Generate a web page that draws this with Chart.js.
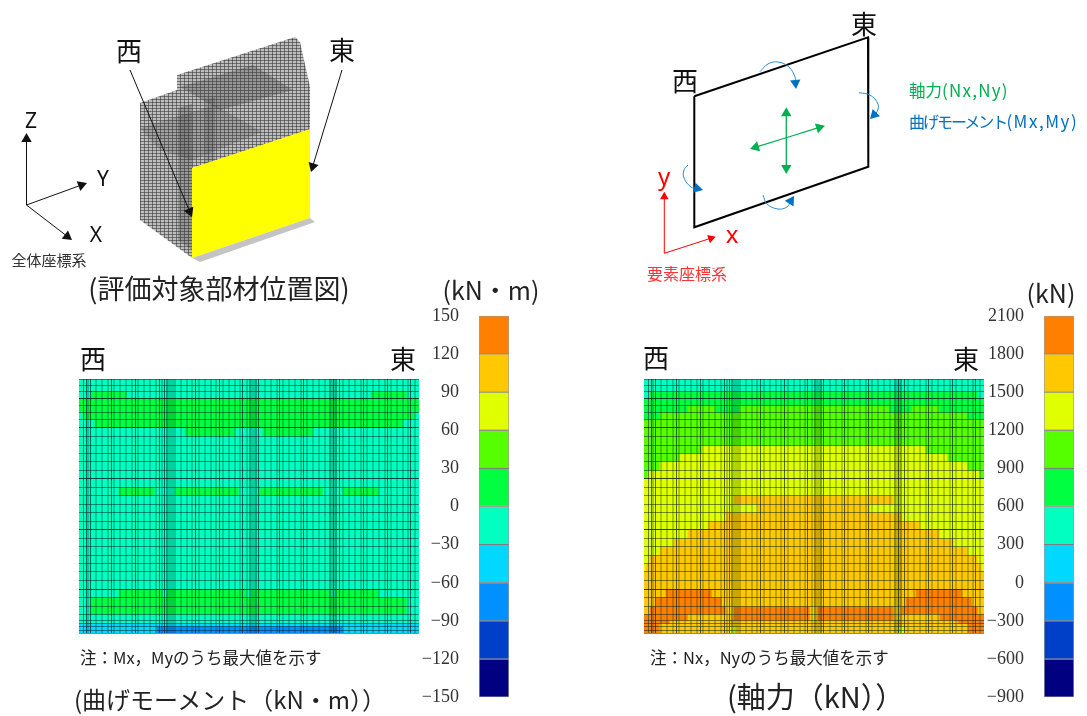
<!DOCTYPE html>
<html lang="ja"><head><meta charset="utf-8">
<script src="https://cdn.jsdelivr.net/npm/chart.js@4/dist/chart.umd.min.js"></script>
<style>
html,body{margin:0;padding:0;background:#fff;width:1087px;height:716px;overflow:hidden}
canvas{position:absolute;display:block}
.soft{filter:blur(.45px)}
.t{position:absolute;transform:translate(-50%,-50%);white-space:nowrap;font-family:"Noto Sans CJK JP","Noto Sans",sans-serif;color:#111;line-height:1;z-index:5}
.l{position:absolute;transform:translateY(-50%);white-space:nowrap;font-family:"Noto Sans CJK JP","Noto Sans",sans-serif;color:#111;line-height:1;z-index:5}
</style></head><body>
<canvas id="sketch" class="soft" width="1087" height="716" style="left:0;top:0"></canvas>
<canvas id="heatM" class="soft" width="344" height="258" style="left:77px;top:377px"></canvas>
<canvas id="heatN" class="soft" width="344" height="258" style="left:642px;top:377px"></canvas>
<canvas id="barM" width="100" height="443" style="left:411px;top:285px"></canvas>
<canvas id="barN" width="100" height="443" style="left:976px;top:285px"></canvas>

<div class="t" style="left:129px;top:50px;font-size:26px">西</div>
<div class="t" style="left:342px;top:49px;font-size:26px">東</div>
<div class="t" style="left:31px;top:120px;font-size:21px;font-family:'Noto Sans'">Z</div>
<div class="t" style="left:103px;top:178px;font-size:21px;font-family:'Noto Sans'">Y</div>
<div class="t" style="left:96px;top:234px;font-size:21px;font-family:'Noto Sans'">X</div>
<div class="t" style="left:49px;top:259px;font-size:15px;color:#333">全体座標系</div>
<div class="t" style="left:219px;top:287px;font-size:27px;color:#222">(評価対象部材位置図)</div>
<div class="t" style="left:685px;top:80px;font-size:26px">西</div>
<div class="t" style="left:864px;top:23px;font-size:26px">東</div>
<div class="l" style="left:909px;top:90px;font-size:16.5px;color:#00b050">軸力<span style="letter-spacing:1.2px;font-size:17px">(Nx,Ny)</span></div>
<div class="l" style="left:909px;top:120px;font-size:16px;color:#0070c0"><span style="letter-spacing:-2px">曲げモーメント</span><span style="letter-spacing:1.5px;font-size:17px">(Mx,My)</span></div>
<div class="t" style="left:664px;top:176px;font-size:24px;color:#f00;font-family:'Noto Sans'">y</div>
<div class="t" style="left:732px;top:234px;font-size:24px;color:#f00;font-family:'Noto Sans'">x</div>
<div class="t" style="left:687px;top:273px;font-size:16px;color:#f33">要素座標系</div>
<div class="t" style="left:491px;top:289px;font-size:25px;color:#222">(kN・m)</div>
<div class="t" style="left:1051px;top:292px;font-size:25px;color:#222">(kN)</div>
<div class="t" style="left:93px;top:358px;font-size:26px">西</div>
<div class="t" style="left:403px;top:358px;font-size:26px">東</div>
<div class="t" style="left:656px;top:357px;font-size:26px">西</div>
<div class="t" style="left:966px;top:358px;font-size:26px">東</div>
<div class="l" style="left:80px;top:657px;font-size:16.5px;color:#222">注：Mx，Myのうち最大値を示す</div>
<div class="l" style="left:650px;top:657px;font-size:16.5px;color:#222">注：Nx，Nyのうち最大値を示す</div>
<div class="l" style="left:74px;top:699px;font-size:24px;color:#222">(曲げモーメント（kN・m））</div>
<div class="l" style="left:727px;top:695px;font-size:29px;color:#222">(軸力（kN））</div>

<script>
// ---------- data ----------
const levelColors = ['#000080','#0040C8','#0090FF','#00D8FF','#00FFC0','#00FF40','#55FF00','#E0FF00','#FFC800','#FF8000'];
const momentTicks = [150,120,90,60,30,0,-30,-60,-90,-120,-150];
const axialTicks  = [2100,1800,1500,1200,900,600,300,0,-300,-600,-900];
const meshColumns = 170;
const meshRowEdges = [0,6,12,19,26,33,40,48,57,66,74,82,91,99,108,116,125,133,142,150,159,167,176,184,192,201,210,218,227,235,241,244,247,251,254];
const meshRowsStrong = [19,48,99,150,210];
const meshColsStrong = [2.5,3.8,15,27.3,39.5,42,57.5,69.5,81.5,88.5,100.5,112.5,128,130.5,142.7,155,166.2];
const meshBands = [44,86,127];

// contour band of each mesh row, as [band, column count] runs
const momentRuns = [
 [[4,170]],[[4,170]],
 [[4,6],[5,18],[4,122],[5,18],[4,6]],
 [[5,170]],[[5,170]],
 [[4,2],[5,166],[4,2]],
 [[4,8],[5,154],[4,8]],
 [[4,53],[5,25],[4,14],[5,25],[4,53]],
 [[4,170]],[[4,170]],[[4,170]],[[4,170]],[[4,170]],[[4,170]],
 [[4,20],[5,18],[4,10],[5,32],[4,10],[5,32],[4,10],[5,18],[4,20]],
 [[4,170]],[[4,170]],[[4,170]],[[4,170]],[[4,170]],[[4,170]],[[4,170]],[[4,170]],[[4,170]],[[4,170]],[[4,170]],
 [[4,20],[5,22],[4,2],[5,40],[4,2],[5,40],[4,2],[5,22],[4,20]],
 [[4,6],[5,158],[4,6]],
 [[4,6],[5,158],[4,6]],
 [[4,170]],[[4,170]],
 [[3,170]],
 [[3,39],[2,93],[3,38]],
 [[3,39],[2,93],[3,38]]
];
const axialRuns = [
 [[4,170]],[[4,170]],
 [[4,3],[5,164],[4,3]],
 [[5,170]],
 [[5,22],[6,14],[5,12],[6,75],[5,11],[6,14],[5,22]],
 [[5,8],[6,154],[5,8]],
 [[6,170]],[[6,170]],[[6,170]],
 [[6,29],[7,112],[6,29]],
 [[6,18],[7,134],[6,18]],
 [[6,8],[7,154],[6,8]],
 [[6,2],[7,166],[6,2]],
 [[7,170]],[[7,170]],
 [[7,45],[8,80],[7,45]],
 [[7,57],[8,56],[7,57]],
 [[7,41],[8,88],[7,41]],
 [[7,32],[8,106],[7,32]],
 [[7,22],[8,126],[7,22]],
 [[7,15],[8,140],[7,15]],
 [[7,8],[8,154],[7,8]],
 [[7,3],[8,164],[7,3]],
 [[7,1],[8,168],[7,1]],
 [[8,170]],[[8,170]],
 [[8,11],[9,23],[8,102],[9,23],[8,11]],
 [[8,6],[9,33],[8,92],[9,33],[8,6]],
 [[8,3],[9,38],[8,4],[9,38],[8,4],[9,38],[8,4],[9,38],[8,3]],
 [[9,22],[8,23],[9,38],[8,4],[9,38],[8,23],[9,22]],
 [[9,13],[8,144],[9,13]],
 [[9,8],[8,154],[9,8]],
 [[9,8],[8,35],[7,3],[8,81],[7,3],[8,32],[9,8]],
 [[9,8],[8,35],[7,3],[8,81],[7,3],[8,32],[9,8]]
];

// ---------- diagram outlines ----------
const wireOutline = [[177,75],[295,37],[300,42],[310,87],[310,130],[192,168],[192,258],[140,220],[140,103],[177,90]];
const wireUpperPlate = [[180,87],[253,65],[293,90],[220,110]];
const wireLowerPlate = [[140,128],[215,105],[262,132],[192,160],[160,150]];
const wireColumnA = [[178,108],[192,104],[192,250],[178,240]];
const wireColumnB = [[205,100],[215,97],[215,165],[205,168]];
const wallPanel = [[192,168],[310,129],[310,218],[192,258]];
const wallBase = [[192,258],[310,218],[315,222],[200,262]];
const panelFrame = [[694.3,96.3],[868,37.3],[868.3,166.7],[694.3,227.3],[694.3,96.3]];
const arrowsBlack = [
 [[26.5,205],[26.5,133]],[[26.5,205],[87,183]],[[26.5,205],[72,240]],
 [[130,70],[192,217]],[[342,70],[311,172]]
];
const arrowsRed = [[[664.3,253.3],[664.3,191.7]],[[664.3,253.3],[715.7,236.7]]];
const arrowsGreen = [[[786.3,140],[786.3,107.3]],[[786.3,140],[786.3,174]],[[787,137.5],[750,149]],[[787,137.5],[825,125.7]]];
const arrowsBlue = [
 [[760,71.7],[768,64],[778,62],[789,67],[795,77],[796,89]],
 [[859,92.7],[870,95],[878,104],[877,112],[870,119]],
 [[688,165],[684,170],[684,178],[691,187],[703,190]],
 [[763,195],[767,204],[778,209],[787,207],[794,196]]
];

// ---------- helpers ----------
function expandRuns(row){const out=[];row.forEach(([b,n])=>{for(let i=0;i<n;i++)out.push(levelColors[b]);});return out;}

function heatChart(id,runs){
  const cols=[...Array(meshColumns).keys()].map(String);
  const datasets=runs.map((row,r)=>({
    data:cols.map(()=>[meshRowEdges[r],meshRowEdges[r+1]]),
    backgroundColor:expandRuns(row),borderWidth:0,barPercentage:1,categoryPercentage:1,grouped:false
  }));
  const vLines=new Map();
  for(let i=1;i*3.05<meshColumns;i++)vLines.set(+(i*3.05).toFixed(2),{c:'rgba(0,40,40,.24)',w:2});
  meshColsStrong.forEach(v=>vLines.set(v,{c:'rgba(0,20,20,.62)',w:1}));
  meshBands.forEach(v=>vLines.set(v,{c:'rgba(0,30,30,.2)',w:8}));
  [0,170].forEach(v=>vLines.set(v,{c:'rgba(60,70,70,.7)',w:1}));
  const strongRows=new Set(meshRowsStrong);
  const vl=c=>(c.tick&&vLines.get(c.tick.value))||{c:'rgba(0,0,0,0)',w:1};
  new Chart(document.getElementById(id),{type:'bar',data:{labels:cols,datasets},options:{
    responsive:false,animation:false,events:[],layout:{padding:2,autoPadding:false},
    plugins:{legend:{display:false},tooltip:{enabled:false}},
    scales:{
      x:{display:false},
      g:{type:'linear',axis:'x',position:'top',min:0,max:meshColumns,
         afterBuildTicks:s=>{s.ticks=[...vLines.keys()].sort((a,b)=>b-a).map(v=>({value:v}));},
         ticks:{display:false,autoSkip:false},border:{display:false},
         grid:{z:1,drawTicks:false,color:c=>vl(c).c,lineWidth:c=>vl(c).w}},
      y:{min:0,max:254,reverse:true,
         afterBuildTicks:s=>{s.ticks=meshRowEdges.map(v=>({value:v}));},
         ticks:{display:false,autoSkip:false},border:{display:false},
         grid:{z:1,drawTicks:false,color:c=>(c.tick&&strongRows.has(c.tick.value))?'rgba(0,20,20,.78)':'rgba(0,30,30,.5)',lineWidth:1}}
    }}});
}

function colorBar(id,ticks){
  const asc=[...ticks].reverse();
  const datasets=levelColors.map((col,i)=>({
    data:[[asc[i],asc[i+1]]],backgroundColor:col,borderColor:'rgba(0,0,0,.38)',borderWidth:1,borderSkipped:false,
    barPercentage:1,categoryPercentage:1,grouped:false}));
  new Chart(document.getElementById(id),{type:'bar',data:{labels:['band'],datasets},options:{
    responsive:false,animation:false,events:[],
    layout:{padding:{top:9,bottom:8,right:2,left:0},autoPadding:false},
    plugins:{legend:{display:false},tooltip:{enabled:false}},
    scales:{
      x:{display:false},
      y:{min:asc[0],max:asc[asc.length-1],
         afterBuildTicks:s=>{s.ticks=ticks.map(v=>({value:v}));},
         afterFit:s=>{s.width=68;},
         border:{display:false},grid:{display:false,drawTicks:false},
         ticks:{autoSkip:false,padding:20,color:'#333',font:{family:'"Liberation Serif"',size:18},
                callback:v=>String(v).replace('-','\u2212')}}
    }}});
}

function meshPattern(){
  const c=document.createElement('canvas');c.width=4;c.height=3;
  const x=c.getContext('2d');
  x.fillStyle='#bdbdbd';x.fillRect(0,0,4,3);
  x.fillStyle='rgba(50,50,50,.55)';
  x.fillRect(0,0,1,3);x.fillRect(0,0,4,1);
  return document.createElement('canvas').getContext('2d').createPattern(c,'repeat');
}
const toXY=p=>p.map(([x,y])=>({x,y}));
function polygon(pts,fillCol){
  return {data:toXY([...pts,pts[0]]),showLine:true,borderWidth:0,pointRadius:0,fill:'shape',backgroundColor:fillCol,tension:0,clip:false};
}
function arrow(pts,col,width,head,tension,headCol){
  const tip=pts[pts.length-1],prev=pts[pts.length-2];
  const dx=tip[0]-prev[0],dy=tip[1]-prev[1],len=Math.hypot(dx,dy);
  const cen=[tip[0]-dx/len*head,tip[1]-dy/len*head];
  const line=[...pts.slice(0,-1),cen];
  const rot=Math.atan2(dx,-dy)*180/Math.PI;
  return {data:toXY(line),showLine:true,borderColor:col,borderWidth:width,tension:tension||0,fill:false,clip:false,
    pointStyle:'triangle',pointRotation:rot,backgroundColor:headCol||col,pointBackgroundColor:headCol||col,pointBorderWidth:0,
    pointRadius:line.map((_,i)=>i===line.length-1?head:0)};
}

const layers=[
  polygon(wireOutline,meshPattern()),
  polygon(wireUpperPlate,'rgba(60,60,60,.30)'),
  polygon(wireLowerPlate,'rgba(60,60,60,.22)'),
  polygon(wireColumnA,'rgba(40,40,40,.25)'),
  polygon(wireColumnB,'rgba(40,40,40,.18)'),
  polygon(wallPanel,'#FFFF00'),
  polygon(wallBase,'#c4c4c4'),
  ...arrowsBlack.map(p=>arrow(p,'#111',1,6)),
  {data:toXY(panelFrame),showLine:true,borderColor:'#000',borderWidth:2,pointRadius:0,tension:0,fill:false,clip:false},
  ...arrowsRed.map(p=>arrow(p,'#f00',1,5)),
  ...arrowsGreen.map(p=>arrow(p,'#00b050',1.3,6)),
  ...arrowsBlue.map(p=>arrow(p,'#2e8fd0',1,6,.4,'#0070c0'))
].reverse();

new Chart(document.getElementById('sketch'),{type:'scatter',data:{datasets:layers},options:{
  responsive:false,animation:false,events:[],layout:{padding:0,autoPadding:false},
  plugins:{legend:{display:false},tooltip:{enabled:false}},
  scales:{x:{display:false,min:0,max:1087},y:{display:false,min:0,max:716,reverse:true}}
}});
heatChart('heatM',momentRuns);
heatChart('heatN',axialRuns);
colorBar('barM',momentTicks);
colorBar('barN',axialTicks);
</script>
</body></html>
